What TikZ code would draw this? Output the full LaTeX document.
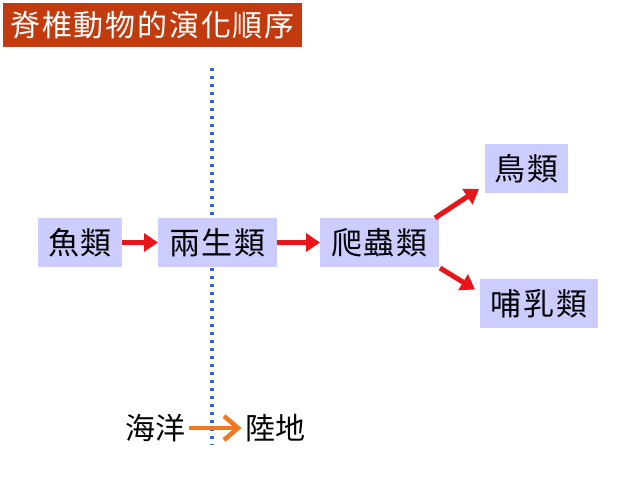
\documentclass[tikz,border=0pt]{standalone}
\usepackage{fontspec}
\setmainfont{Noto Sans CJK TC}
\newfontfamily\spacedfont[LetterSpace=6]{Noto Sans CJK TC}
\usetikzlibrary{arrows.meta,calc}
\definecolor{titlered}{RGB}{194,59,14}
\definecolor{boxblue}{RGB}{204,204,255}
\definecolor{dotblue}{RGB}{51,102,221}
\definecolor{arrowred}{RGB}{232,22,26}
\definecolor{arroworange}{RGB}{240,120,32}
\begin{document}
\begin{tikzpicture}[line join=bevel,
  taxon/.style={fill=boxblue,inner sep=0bp,minimum width=#1,minimum height=49bp,outer sep=0bp,font=\spacedfont\fontsize{31bp}{33bp}\selectfont},
  evo/.style={arrowred,line width=5bp,-{Triangle[length=14bp,width=18bp]}},
  move/.style={arroworange,line width=4.5bp,-{Straight Barb[length=14bp,width=24bp]}},
]
%%
\useasboundingbox (0bp,0bp) rectangle (638bp,479bp);
\node (node_title) at (152.5bp,454bp) [fill=titlered,text=white,minimum width=299bp,minimum height=44bp,inner sep=0bp,font=\spacedfont\fontsize{30bp}{32bp}\selectfont] {脊椎動物的演化順序};
  \draw [dotblue,line width=3.5bp,dash pattern=on 3.5bp off 4.5bp] (212bp,411bp) -- (212bp,34bp);
  \node (node_fish) at (80bp,236.5bp) [taxon=84bp] {魚類};
  \node (node_amph) at (217.5bp,236.5bp) [taxon=119bp] {兩生類};
  \node (node_rept) at (379.5bp,236.5bp) [taxon=119bp] {爬蟲類};
  \node (node_bird) at (526.5bp,310.5bp) [taxon=83bp] {鳥類};
  \node (node_mamm) at (539bp,175bp) [taxon=118bp] {哺乳類};
  \draw [evo] (node_fish) -- (node_amph);
  \draw [evo] (node_amph) -- (node_rept);
  \draw [evo] ($(node_rept.north east)+(-4bp,0bp)$) -- ($(node_bird.south west)+(-6bp,4bp)$);
  \draw [evo] ($(node_rept.south east)+(1bp,-1bp)$) -- ($(node_mamm.north west)+(-5bp,-10bp)$);
%
\node (node_sea) at (155bp,51bp) [font=\fontsize{30bp}{32bp}\selectfont] {海洋};
  \node (node_land) at (275bp,51bp) [font=\fontsize{30bp}{32bp}\selectfont] {陸地};
  \draw [move] (node_sea) -- (node_land);
%
\end{tikzpicture}
\end{document}
